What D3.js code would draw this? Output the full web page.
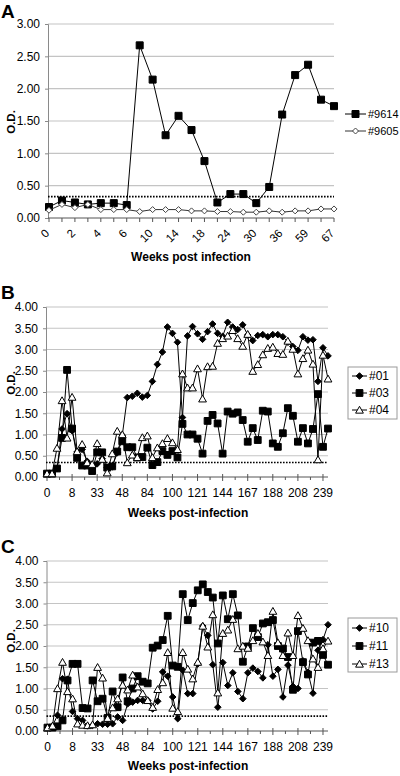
<!DOCTYPE html>
<html><head><meta charset="utf-8">
<script src="https://cdn.jsdelivr.net/npm/d3@7"></script>
<style>body{margin:0;background:#fff}svg{display:block}text{font-family:"Liberation Sans",Arial,sans-serif;fill:#000}</style>
</head><body>
<svg id="c" width="400" height="776"></svg>
<script>
// ---------- Panel A ----------
const weeksA = [0,1,2,3,4,5,6,8,10,12,14,16,18,20,24,27,30,33,36,48,59,63,67];
const labelIdxA = [0,2,4,6,8,10,12,14,16,18,20,22];
const sA9614 = [0.17,0.27,0.24,0.21,0.23,0.23,0.20,2.67,2.14,1.28,1.58,1.36,0.88,0.24,0.37,0.37,0.23,0.48,1.60,2.21,2.37,1.83,1.73];
const sA9605 = [0.12,0.21,0.16,0.21,0.13,0.13,0.13,0.10,0.13,0.13,0.13,0.11,0.11,0.10,0.10,0.09,0.09,0.11,0.09,0.11,0.11,0.14,0.14];
const cutoffA = 0.33;
// ---------- Panel B ----------
const tickLabelsB = ["0","8","33","48","84","100","121","144","167","188","208","239"];
const sB01 = [0.08,0.08,0.2,1.13,1.49,1.09,0.59,0.65,0.37,0.2,0.31,0.43,0.22,0.24,0.57,0.98,1.87,1.9,1.97,1.88,1.92,2.25,2.65,2.94,3.53,3.38,3.17,1.40,3.32,3.54,3.37,3.24,3.42,3.60,3.38,3.31,3.64,3.53,3.47,3.58,3.34,3.21,3.33,3.35,3.30,3.35,3.35,3.30,3.17,3.07,2.98,3.30,3.22,3.23,2.25,3.04,2.85];
const sB03 = [0.08,0.08,0.2,0.92,2.52,1.14,0.45,0.27,0.27,0.14,0.58,0.58,0.22,0.25,0.6,0.84,0.7,0.7,0.46,0.47,0.69,0.28,0.35,0.61,0.52,0.61,0.46,1.25,1.0,1.0,0.9,0.55,1.32,1.46,1.26,0.55,1.54,1.49,1.52,1.34,0.83,1.15,0.87,1.56,1.54,0.79,0.71,1.03,1.62,1.44,0.83,1.15,0.79,1.13,1.95,0.71,1.14];
const sB04 = [0.08,0.08,0.68,1.8,0.92,1.88,0.6,0.77,0.34,0.3,0.79,0.42,0.1,0.55,1.08,1.0,0.34,0.52,0.46,0.93,0.97,0.46,0.69,0.79,0.91,0.81,0.65,2.43,2.1,2.1,2.55,1.84,2.6,2.61,3.15,3.26,3.32,3.45,3.26,3.08,3.36,2.49,2.65,2.88,3.03,3.06,2.91,2.89,3.2,3.01,2.43,2.79,2.99,2.66,0.41,2.87,2.31];
const cutoffB = 0.34;
// ---------- Panel C ----------
const tickLabelsC = ["0","8","33","48","84","100","121","144","167","188","208","239"];
const sC10 = [0.08,0.12,0.37,1.23,1.22,0.46,0.29,0.25,0.12,0.13,0.17,0.16,0.16,0.17,0.33,0.25,0.64,0.68,0.72,0.72,0.72,0.52,0.7,1.39,1.29,0.8,0.29,1.43,0.88,0.88,1.58,2.47,2.25,1.56,0.56,1.61,1.07,1.37,0.93,0.76,1.37,1.48,1.4,1.25,2.03,1.29,1.45,0.8,1.55,1.05,1.0,1.65,1.38,0.89,1.9,2.15,2.5];
const sC11 = [0.08,0.08,0.11,0.25,1.19,1.58,1.58,0.54,0.53,1.19,0.70,0.76,0.31,0.93,0.56,1.26,0.70,1.0,1.29,1.16,1.12,1.96,2.01,2.14,2.71,1.54,1.51,3.22,2.61,3.01,3.31,3.45,3.27,3.14,2.06,3.19,2.63,3.22,2.72,1.63,1.99,2.42,2.21,2.53,2.56,2.61,2.0,1.94,1.74,0.97,2.35,1.62,1.33,2.08,2.12,1.79,1.56];
const sC13 = [0.08,0.12,1.0,1.62,0.93,0.76,0.17,0.14,0.13,0.15,1.5,1.25,0.3,0.55,0.76,1.08,0.97,1.32,1.04,0.88,0.72,0.56,0.98,1.14,1.85,0.54,0.46,1.85,1.46,1.23,1.62,2.47,1.98,2.74,0.9,2.3,2.38,2.63,1.94,2.0,1.95,2.13,2.3,2.1,1.78,2.82,2.08,1.78,2.31,1.78,2.72,2.42,2.13,1.7,1.5,1.94,2.12];
const cutoffC = 0.35;

const svg = d3.select("#c");
const FONT = '"Liberation Sans",Arial,sans-serif';

const shapes = {
  square: r => `M${-r},${-r}h${2*r}v${2*r}h${-2*r}Z`,
  diamond: r => `M0,${-r}L${r},0L0,${r}L${-r},0Z`,
  triangle: r => `M0,${-r}L${r*1.05},${r*0.85}L${-r*1.05},${r*0.85}Z`
};

function panel(cfg){
  const g = svg.append("g");
  const x = d3.scalePoint().domain(d3.range(cfg.n)).range(cfg.xr);
  const y = d3.scaleLinear().domain([0, cfg.ymax]).range(cfg.yr);
  const yt = d3.range(0, cfg.ymax + 0.001, 0.5);
  const L = cfg.xr[0]-1, R = cfg.xr[1];
  g.selectAll(".grid").data(yt.filter(v=>v>0)).join("line")
    .attr("x1", L).attr("x2", R).attr("y1", d=>y(d)).attr("y2", d=>y(d))
    .attr("stroke", "#c4c4c4").attr("stroke-width", 1.2);
  const ya = d3.axisLeft(y).tickValues(yt).tickFormat(d3.format(".2f")).tickSize(3).tickPadding(5);
  const yg = g.append("g").attr("transform", `translate(${L},0)`).call(ya);
  yg.select(".domain").attr("stroke", "#8a8a8a");
  yg.selectAll(".tick line").attr("stroke", "#8a8a8a");
  yg.selectAll("text").style("font-family", FONT).style("font-size", "12px").attr("fill", "#000");
  g.append("line").attr("x1", L).attr("x2", R).attr("y1", y(0)).attr("y2", y(0))
    .attr("stroke", "#555").attr("stroke-width", 1);
  g.append("line").attr("x1", L).attr("x2", R).attr("y1", y(cfg.cutoff)).attr("y2", y(cfg.cutoff))
    .attr("stroke", "#000").attr("stroke-width", 1.6).attr("stroke-dasharray", "1.6,1.4");
  cfg.xticks(g, x, y);
  cfg.series.forEach(s => {
    const line = d3.line().x((d,i)=>x(i)).y(d=>y(d));
    g.append("path").datum(s.values).attr("d", line).attr("fill","none")
      .attr("stroke", s.lineColor || "#000").attr("stroke-width", 1);
    g.selectAll(null).data(s.values).join("path")
      .attr("transform", (d,i)=>`translate(${x(i)},${y(d)})`)
      .attr("d", shapes[s.shape](s.r))
      .attr("fill", s.fill).attr("stroke", s.stroke).attr("stroke-width", s.sw || 1);
  });
  g.append("text").attr("x", cfg.letter[0]).attr("y", cfg.letter[1]).text(cfg.letterText)
    .style("font-size", "19px").style("font-weight", "bold");
  g.append("text").attr("transform", `translate(${cfg.od[0]},${cfg.od[1]}) rotate(-90)`)
    .attr("text-anchor", "middle").text("O.D.").style("font-size", "11.5px").style("font-weight", "bold");
  g.append("text").attr("x", cfg.title[0]).attr("y", cfg.title[1]).attr("text-anchor", "middle")
    .text(cfg.titleText).style("font-size", "12px").style("font-weight", "bold");
  const lg = g.append("g");
  if (cfg.legend.box) {
    const b = cfg.legend.box;
    lg.append("rect").attr("x", b[0]).attr("y", b[1]).attr("width", b[2]).attr("height", b[3])
      .attr("fill", "#fff").attr("stroke", "#9a9a9a").attr("stroke-width", 1);
  }
  cfg.series.forEach((s, k) => {
    const ly = cfg.legend.y[k];
    const [lx1, lx2] = cfg.legend.line;
    lg.append("line").attr("x1", lx1).attr("x2", lx2).attr("y1", ly).attr("y2", ly)
      .attr("stroke", s.lineColor || "#000").attr("stroke-width", 1);
    lg.append("path").attr("transform", `translate(${(lx1+lx2)/2},${ly})`)
      .attr("d", shapes[s.shape](s.r)).attr("fill", s.fill).attr("stroke", s.stroke).attr("stroke-width", s.sw || 1);
    lg.append("text").attr("x", cfg.legend.tx).attr("y", ly).attr("dy", "0.36em")
      .text(s.name).style("font-size", cfg.legend.fs || "12px");
  });
}

panel({
  n: weeksA.length, xr: [49, 334], yr: [218, 24], ymax: 3, cutoff: cutoffA,
  xticks: (g, x, y) => {
    g.selectAll(".xt").data(d3.range(weeksA.length)).join("line")
      .attr("x1", i=>x(i)).attr("x2", i=>x(i)).attr("y1", y(0)).attr("y2", y(0)+4)
      .attr("stroke", "#555");
    g.selectAll(".xl").data(labelIdxA).join("text")
      .attr("transform", i=>`translate(${x(i)+1},${y(0)+16}) rotate(-45)`)
      .attr("text-anchor", "end").text(i=>weeksA[i]).style("font-size", "11.5px");
  },
  series: [
    {name: "#9614", values: sA9614, shape: "square", r: 3.5, fill: "#000", stroke: "#000"},
    {name: "#9605", values: sA9605, shape: "diamond", r: 3, fill: "#fff", stroke: "#444", lineColor: "#333"}
  ],
  letter: [1, 18], letterText: "A", od: [15, 122], title: [191, 261], titleText: "Weeks post infection",
  legend: {line: [345, 366], tx: 368, y: [114, 131], fs: "11px"}
});

function xticksBC(labels){
  return (g, x, y) => {
    const n = x.domain().length;
    const major = d3.range(0, n, 5);
    const step = x.step();
    g.selectAll(".xt").data(major).join("line")
      .attr("x1", i=>x(i)).attr("x2", i=>x(i)).attr("y1", y(0)-3).attr("y2", y(0)+4).attr("stroke", "#555");
    g.selectAll(".xm").data(major.slice(0, -1)).join("line")
      .attr("x1", i=>x(i)+2.5*step).attr("x2", i=>x(i)+2.5*step).attr("y1", y(0)).attr("y2", y(0)+3).attr("stroke", "#555");
    g.selectAll(".xl").data(major).join("text")
      .attr("x", i=>x(i)).attr("y", y(0)+20).attr("text-anchor", "middle")
      .text((i,k)=>labels[k]).style("font-size", "12px");
  };
}

const seriesStyle = [
  {shape: "diamond", r: 3.3, fill: "#000", stroke: "#000"},
  {shape: "square", r: 3.4, fill: "#000", stroke: "#000"},
  {shape: "triangle", r: 3.7, fill: "#fff", stroke: "#000"}
];

panel({
  n: sB01.length, xr: [47, 328], yr: [477, 307], ymax: 4, cutoff: cutoffB,
  xticks: xticksBC(tickLabelsB),
  series: [
    Object.assign({name: "#01", values: sB01}, seriesStyle[0]),
    Object.assign({name: "#03", values: sB03}, seriesStyle[1]),
    Object.assign({name: "#04", values: sB04}, seriesStyle[2])
  ],
  letter: [1, 299], letterText: "B", od: [15, 383], title: [188, 517], titleText: "Weeks post-infection",
  legend: {box: [348, 367, 49, 52], line: [352, 367], tx: 369, y: [376, 393, 410]}
});

panel({
  n: sC10.length, xr: [47.5, 328], yr: [731, 561], ymax: 4, cutoff: cutoffC,
  xticks: xticksBC(tickLabelsC),
  series: [
    Object.assign({name: "#10", values: sC10}, seriesStyle[0]),
    Object.assign({name: "#11", values: sC11}, seriesStyle[1]),
    Object.assign({name: "#13", values: sC13}, seriesStyle[2])
  ],
  letter: [1, 553], letterText: "C", od: [15, 641], title: [188, 770], titleText: "Weeks post-infection",
  legend: {box: [348, 618, 49, 54], line: [352, 367], tx: 369, y: [628, 646, 664]}
});
</script>
</body></html>
